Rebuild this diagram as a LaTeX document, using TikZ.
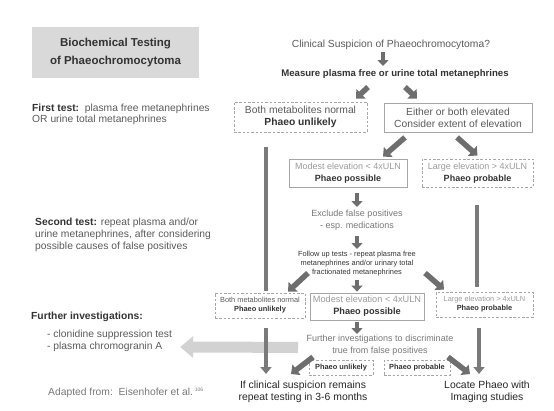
\documentclass[tikz,border=0pt]{standalone}
\usepackage{fontspec}
\setmainfont{Liberation Sans}
\usetikzlibrary{arrows.meta}

\definecolor{arrgray}{HTML}{6E6E6E}
\definecolor{linegray}{HTML}{7A7A7A}
\definecolor{boxline}{HTML}{A6A6A6}
\definecolor{titlefill}{HTML}{D9D9D9}
\definecolor{bandgray}{HTML}{D2D2D2}
\definecolor{txtdark}{HTML}{333333}
\definecolor{txtmid}{HTML}{5A5A5A}
\definecolor{txtsoft}{HTML}{777777}
\definecolor{txtlight}{HTML}{9A9A9A}

\newcommand\fmain{\fontsize{10.3}{12}\selectfont}
\newcommand\fmid{\fontsize{9}{11.5}\selectfont}
\newcommand\fsmall{\fontsize{7.4}{9}\selectfont}

\tikzset{
  stepbox/.style={draw=boxline,line width=0.8pt,align=center,inner sep=0pt},
  dashbox/.style={stepbox,dash pattern=on 2.5pt off 1.8pt},
  txt/.style={inner sep=0pt,align=center},
  ltxt/.style={inner sep=0pt,align=left,anchor=west,font=\fmain,text=txtmid}
}

\begin{document}
\begin{tikzpicture}[x=1pt,y=-1pt]
  \useasboundingbox (0,0) rectangle (554,410);
  % left column
  \node[fill=titlefill,minimum width=167pt,minimum height=51pt,align=center,
        font=\fontsize{11.5}{18}\selectfont\bfseries,text=txtdark] (title) at (115.5,52.5)
        {Biochemical Testing\\of Phaeochromocytoma};
  \begin{scope}[every node/.style={ltxt}]
    \node[font=\fontsize{10.3}{11}\selectfont] (first) at (32,114.5)
      {\textcolor{txtdark}{\bfseries First test:}\ \ plasma free metanephrines\\OR urine total metanephrines};
    \node (second) at (35,235)
      {\textcolor{txtdark}{\bfseries Second test:} repeat plasma and/or\\urine metanephrines, after considering\\possible causes of false positives};
    \node[font=\fmain\bfseries,text=txtdark] (finv) at (31,317) {Further investigations:};
    \node (fitems) at (47,341) {- clonidine suppression test\\- plasma chromogranin A};
    \node[text=txtsoft] (adapt) at (48,393)
      {Adapted from:\ \ Eisenhofer et al.\,\raisebox{4pt}{\fontsize{5}{6}\selectfont 106}};
  \end{scope}
  % flow chart
  \begin{scope}[every node/.style={txt}]
    \node[font=\fmain,text=txtmid] (clin) at (391,45) {Clinical Suspicion of Phaeochromocytoma?};
    \node[font=\fontsize{9.6}{12}\selectfont\bfseries,text=txtdark] (meas) at (395,74) {Measure plasma free or urine total metanephrines};
    \node[font=\fmid,text=txtsoft] (excl) at (357,220) {Exclude false positives\\- esp. medications};
    \node[font=\fsmall,text=txtdark] (foll) at (357,264)
      {Follow up tests - repeat plasma free\\metanephrines and/or urinary total\\fractionated metanephrines};
    \node[font=\fmid,text=txtsoft] (furt) at (380,345) {Further investigations to discriminate\\true from false positives};
    \node[font=\fontsize{10.4}{11.5}\selectfont,text=black!85] (rep) at (303,392)
      {If clinical suspicion remains\\repeat testing in 3-6 months};
    \node[font=\fontsize{10.4}{11.5}\selectfont,text=black!85] (loc) at (487,392) {Locate Phaeo with\\Imaging studies};
  \end{scope}
  \begin{scope}[every node/.style={text=txtmid}]
    \node[dashbox,minimum width=133pt,minimum height=30pt,font=\fmain] (unl1) at (300.5,117)
      {Both metabolites normal\\\textcolor{txtdark}{\bfseries Phaeo unlikely}};
    \node[stepbox,minimum width=148pt,minimum height=29pt,font=\fmain] (elev) at (458,117.5)
      {Either or both elevated\\Consider extent of elevation};
    \node[stepbox,minimum width=118pt,minimum height=28pt,font=\fmid] (mod1) at (348,173)
      {\textcolor{txtlight}{Modest elevation < 4xULN}\\\textcolor{txtdark}{\bfseries Phaeo possible}};
    \node[dashbox,minimum width=111pt,minimum height=28pt,font=\fmid] (lar1) at (477.5,173)
      {\textcolor{txtlight}{Large elevation > 4xULN}\\\textcolor{txtdark}{\bfseries Phaeo probable}};
    \node[dashbox,minimum width=90pt,minimum height=25pt,font=\fsmall] (unl2) at (260,305.5)
      {Both metabolites normal\\\textcolor{txtdark}{\bfseries Phaeo unlikely}};
    \node[stepbox,minimum width=114pt,minimum height=27pt,font=\fontsize{9.2}{12}\selectfont] (mod2) at (367,306.5)
      {\textcolor{txtlight}{Modest elevation < 4xULN}\\\textcolor{txtdark}{\bfseries Phaeo possible}};
    \node[dashbox,minimum width=97pt,minimum height=25pt,font=\fsmall] (lar2) at (484.5,304.5)
      {\textcolor{txtlight}{Large elevation > 4xULN}\\\textcolor{txtdark}{\bfseries Phaeo probable}};
    \node[dashbox,minimum width=64pt,minimum height=15pt,font=\fsmall\bfseries,text=txtdark] (pu) at (341,367.5) {Phaeo unlikely};
    \node[dashbox,minimum width=66pt,minimum height=15pt,font=\fsmall\bfseries,text=txtdark] (pp) at (417,367.5) {Phaeo probable};
  \end{scope}
  % wide arrow to further investigations
  \draw[draw=bandgray,line width=11pt,-{Triangle[width=21pt,length=13pt]}]
    ([shift={(38,29)}]unl2.south) -- ([shift={(8,6)}]fitems.east);
  % straight block arrows
  \begin{scope}[every edge/.style={draw=arrgray,line width=4.5pt,-{Triangle[width=11pt,length=6pt]}}]
    \path ([shift={(-8,7)}]clin.center) edge ([shift={(-12,-8)}]meas.center);
    \path ([shift={(9,6)}]mod1.south) edge ([shift={(0,-13)}]excl.center);
    \path ([shift={(0,16)}]excl.center) edge ([shift={(0,-15)}]foll.center);
    \path ([shift={(0,16)}]foll.center) edge ([shift={(-10,-1)}]mod2.north);
    \path ([shift={(-10,2)}]mod2.south) edge ([shift={(-23,-11)}]furt.center);
  \end{scope}
  % slanted block arrows
  \begin{scope}[every edge/.style={draw=arrgray,line width=5.5pt,-{Triangle[width=13pt,length=7pt]}}]
    \path ([shift={(-27,13)}]meas.center) edge ([shift={(55.5,-3)}]unl1.north);
    \path ([shift={(10,13)}]meas.center) edge ([shift={(-41,-4)}]elev.north);
    \path ([shift={(-53,5)}]elev.south) edge ([shift={(35,-2)}]mod1.north);
    \path ([shift={(-1,5)}]elev.south) edge ([shift={(0,-3)}]lar1.north);
    \path ([shift={(-49,9)}]foll.center) edge ([shift={(28,-1)}]unl2.north);
    \path ([shift={(68,9)}]foll.center) edge ([shift={(-40.5,-2)}]lar2.north);
    \path ([shift={(-67,12)}]furt.center) edge ([shift={(-12,-18)}]rep.center);
    \path ([shift={(68,12)}]furt.center) edge ([shift={(-17,-18)}]loc.center);
  \end{scope}
  % long lines
  \begin{scope}[every edge/.style={draw=linegray,line width=4pt}]
    \path ([shift={(-34.5,15)}]unl1.south) edge ([shift={(6,-2)}]unl2.north);
    \path ([shift={(-0.5,18)}]lar1.south) edge ([shift={(-7.5,-5)}]lar2.north);
  \end{scope}
  \begin{scope}[every edge/.style={draw=linegray,line width=4pt,-{Triangle[width=11pt,length=7pt]}}]
    \path ([shift={(6,10)}]unl2.south) edge ([shift={(-37,-18)}]rep.center);
    \path ([shift={(-5.5,11)}]lar2.south) edge ([shift={(-8,-18)}]loc.center);
  \end{scope}
\end{tikzpicture}
\end{document}
